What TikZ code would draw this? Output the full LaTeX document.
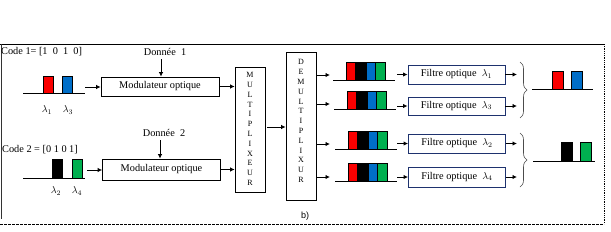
\documentclass[tikz,border=0pt]{standalone}
\usepackage{fontspec}
\setmainfont{Liberation Serif}
\newfontfamily\sansb{Liberation Sans}
\usetikzlibrary{arrows.meta,decorations.pathreplacing}
\definecolor{pred}{RGB}{250,0,0}
\definecolor{pblue}{RGB}{0,110,200}
\definecolor{pgreen}{RGB}{0,176,80}
\definecolor{navyb}{RGB}{30,50,110}
\begin{document}
\begin{tikzpicture}[x=1pt,y=-1pt,
  font=\fontsize{10.3}{12}\selectfont,
  arr/.style={line width=0.9pt,-{Latex[length=4.5pt,width=4.5pt]}},
  modbox/.style={draw,line width=0.7pt,minimum width=118pt,minimum height=19pt,inner sep=0pt},
  filtbox/.style={draw=navyb,line width=0.9pt,minimum width=97pt,minimum height=19pt,inner sep=0pt},
  muxbox/.style={draw,line width=0.7pt,minimum width=30pt,inner sep=0pt},
  letters/.style={align=center,font=\fontsize{8}{9.8}\selectfont,inner sep=0pt},
  base/.style={line width=0.8pt},
  bar/.style={draw=black,line width=0.4pt},
  brc/.style={decorate,decoration={brace,amplitude=7pt},line width=0.6pt,draw=black!70}]
\useasboundingbox (0,0) rectangle (611,231);
% frame
\draw[line width=1pt] (0,44) -- (604,44);
\draw[line width=0.8pt,black!80] (1,44) -- (1,219);
\draw[line width=0.9pt,dash pattern=on 2.5pt off 1.5pt] (0,224) -- (604,224);
\draw[line width=0.8pt,densely dotted] (604,44) -- (604,224);

% input code 1
\node[anchor=west,inner sep=0pt] (code1) at (1,52) {Code 1= [1\ \ 0\ \ 1\ \ 0]};
\draw[base] (23,93) -- (85,93);
\filldraw[bar,fill=pred] (43,76) rectangle (53,93);
\filldraw[bar,fill=pblue] (62,76) rectangle (72,93);
\node (l1) at (47,110) {$\lambda_1$};
\node (l3) at (68,110) {$\lambda_3$};
% input code 2
\node[anchor=west,inner sep=0pt] (code2) at (2,150) {Code 2 = [0\ 1\ 0\ 1]};
\draw[base] (23,178) -- (85,178);
\filldraw[bar,fill=black] (52,159) rectangle (62,178);
\filldraw[bar,fill=pgreen] (72,159) rectangle (82,178);
\node (l2) at (56,191) {$\lambda_2$};
\node (l4) at (77,191) {$\lambda_4$};

% modulators
\node[modbox] (mod1) at (160,86.5) {Modulateur optique};
\node[modbox,minimum height=21pt] (mod2) at (161.5,169.5) {Modulateur optique};
\node (d1) at (165,52) {Donnée\ \ 1};
\node (d2) at (164,133) {Donnée\ \ 2};
\coordinate (in1) at (85,87);
\coordinate (in2) at (87,170);
\draw[arr] (in1) -- (in1 -| mod1.west);
\draw[arr] (in2) -- (in2 -| mod2.west);
\draw[arr] (d1.south -| 161,0) -- (161,0 |- mod1.north);
\draw[arr] (d2.south -| 160,0) -- (160,0 |- mod2.north);

% mux / demux
\node[muxbox,minimum height=125pt] (mux) at (250,129.5) {};
\node[letters] (muxt) at (250,129) {M\\U\\L\\T\\I\\P\\L\\I\\X\\E\\U\\R};
\node[muxbox,minimum height=148pt] (demux) at (301,126) {};
\node[letters] (demuxt) at (301,121) {D\\E\\M\\U\\L\\T\\I\\P\\L\\I\\X\\U\\R};
\draw[arr] (mod1.east) -- (mod1.east -| mux.west);
\draw[arr] (mod2.east) -- (mod2.east -| mux.west);
\coordinate (mx) at (267,127);
\draw[arr] (mx) -- (mx -| demux.west);

% pulse groups after demux
\foreach \yb/\dx in {80/0, 109/1, 149/2, 181/2}{
  \draw[base] (333+\dx,\yb) -- (395+\dx,\yb);
  \filldraw[bar,fill=pred]   (346+\dx,\yb-18) rectangle (355+\dx,\yb);
  \filldraw[bar,fill=black]  (355+\dx,\yb-18) rectangle (366+\dx,\yb);
  \filldraw[bar,fill=pblue]  (366+\dx,\yb-18) rectangle (375+\dx,\yb);
  \filldraw[bar,fill=pgreen] (375+\dx,\yb-18) rectangle (385+\dx,\yb);
}
\coordinate (g1) at (330,75);
\coordinate (g2) at (330,104);
\coordinate (g3) at (330,144);
\coordinate (g4) at (330,177);
\draw[arr] (g1 -| demux.east) -- (g1);
\draw[arr] (g2 -| demux.east) -- (g2);
\draw[arr] (g3 -| demux.east) -- (g3);
\draw[arr] (g4 -| demux.east) -- (g4);

% filters
\node[filtbox] (f1) at (456.5,74.5) {Filtre optique\ \ $\lambda_1$};
\node[filtbox,minimum height=18pt] (f3) at (456.5,106) {Filtre optique\ \ $\lambda_3$};
\node[filtbox] (f2) at (457,143.5) {Filtre optique\ \ $\lambda_2$};
\node[filtbox,minimum height=20pt] (f4) at (457,177) {Filtre optique\ \ $\lambda_4$};
\coordinate (s1) at (397,0);
\draw[arr] (s1 |- f1.west) -- (f1.west);
\draw[arr] (s1 |- f3.west) -- (f3.west);
\draw[arr] (s1 |- f2.west) -- (f2.west);
\draw[arr] (s1 |- f4.west) -- (f4.west);
\coordinate (e1) at (517,0);
\draw[arr] (f1.east) -- (e1 |- f1.east);
\draw[arr] (f3.east) -- (e1 |- f3.east);
\draw[arr] (f2.east) -- (e1 |- f2.east);
\draw[arr] (f4.east) -- (e1 |- f4.east);

% braces
\draw[brc] (520,62) -- (520,118);
\draw[brc] (520,133) -- (520,187);

% outputs
\draw[base] (532,89) -- (593,89);
\filldraw[bar,fill=pred] (552,71) rectangle (563,89);
\filldraw[bar,fill=pblue] (571,71) rectangle (582,89);
\draw[base] (533,161) -- (595,161);
\filldraw[bar,fill=black] (561,142) rectangle (572,161);
\filldraw[bar,fill=pgreen] (580,142) rectangle (591,161);

\node[font=\sansb\fontsize{9}{10}\selectfont] (lb) at (305,216) {b)};
\end{tikzpicture}
\end{document}
